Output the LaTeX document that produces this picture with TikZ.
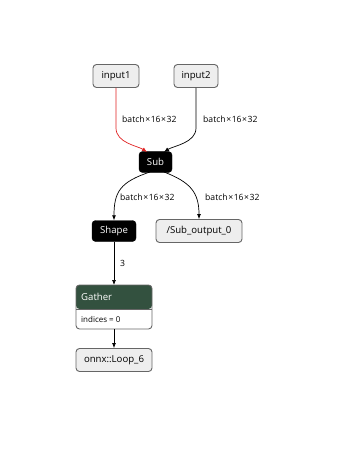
\documentclass[tikz,border=0pt]{standalone}
\usepackage{fontspec}
\setmainfont{Open Sans}
\usetikzlibrary{arrows.meta}
\definecolor{nodegray}{HTML}{EEEEEE}
\definecolor{bordergray}{HTML}{666666}
\definecolor{gathergreen}{HTML}{33513F}
\definecolor{edgered}{HTML}{E02020}
\tikzset{
  io/.style={draw=bordergray, line width=0.9pt, fill=nodegray, rounded corners=3.5pt, font=\fontsize{9.6}{11}\selectfont, inner sep=0pt, minimum height=23pt, anchor=center},
  op/.style={draw=black, fill=black, text=white, rounded corners=3.5pt, font=\fontsize{9.6}{11}\selectfont, inner sep=0pt, minimum height=21pt, anchor=center},
  elabel/.style={font=\fontsize{8.6}{10}\selectfont, inner sep=0pt},
  edge/.style={-{Latex[length=5pt,width=4pt]}, line width=0.7pt},
}
\newcommand{\bx}{batch\kern0.6pt×\kern0.6pt16\kern0.6pt×\kern0.6pt32}
\begin{document}
\begin{tikzpicture}[x=1pt,y=1pt]
\useasboundingbox (0,0) rectangle (353,-449);
% nodes
\node[io, minimum width=46pt] (in1) at (116,-76) {input1};
\node[io, minimum width=44pt] (in2) at (196,-76) {input2};
\node[op, minimum width=33pt] (sub) at (155.5,-162) {Sub};
\node[op, minimum width=44pt] (shape) at (114,-231) {Shape};
\node[io, minimum width=86pt] (out) at (199,-231) {/Sub\_output\_0};
% Gather
\path[fill=gathergreen, rounded corners=3.5pt] (76,-309) -- (76,-285) -- (152,-285) -- (152,-309) -- cycle;
\path[fill=white, rounded corners=3.5pt] (76,-309) -- (76,-329) -- (152,-329) -- (152,-309) -- cycle;
\draw[bordergray, line width=0.9pt, rounded corners=3.5pt] (76,-285) rectangle (152,-329);
\draw[bordergray, line width=0.6pt] (76,-309) -- (152,-309);
\node[text=white, anchor=west, font=\fontsize{9.6}{11}\selectfont, inner sep=0pt] (gathertitle) at (81,-297) {Gather};
\node[anchor=west, font=\fontsize{8}{9}\selectfont, inner sep=0pt] (gatherattr) at (81,-319) {indices = 0};
\coordinate (gtop) at (114,-285);
\coordinate (gbot) at (114,-329);
\node[io, minimum width=76pt] (loop) at (114,-360) {onnx::Loop\_6};
% edges
\draw[edge, edgered] (in1.south) -- (116,-128) .. controls (116,-143) and (138,-146) .. (147,-152);
\draw[edge] (in2.south) -- (196,-128) .. controls (196,-143) and (173,-146) .. (164,-152);
\draw[edge] (150,-172) .. controls (120,-182) and (114,-192) .. (shape.north);
\draw[edge] (164,-172) .. controls (190,-182) and (199,-192) .. (out.north);
\draw[edge] (shape.south) -- (gtop);
\draw[edge] (gbot) -- (loop.north);
% labels
\node[elabel, anchor=west] (l1) at (122,-119) {\bx};
\node[elabel, anchor=west] (l2) at (203,-119) {\bx};
\node[elabel, anchor=west] (l3) at (120,-197) {\bx};
\node[elabel, anchor=west] (l4) at (205,-197) {\bx};
\node[elabel, anchor=west] (l5) at (120,-263) {3};
\end{tikzpicture}
\end{document}
